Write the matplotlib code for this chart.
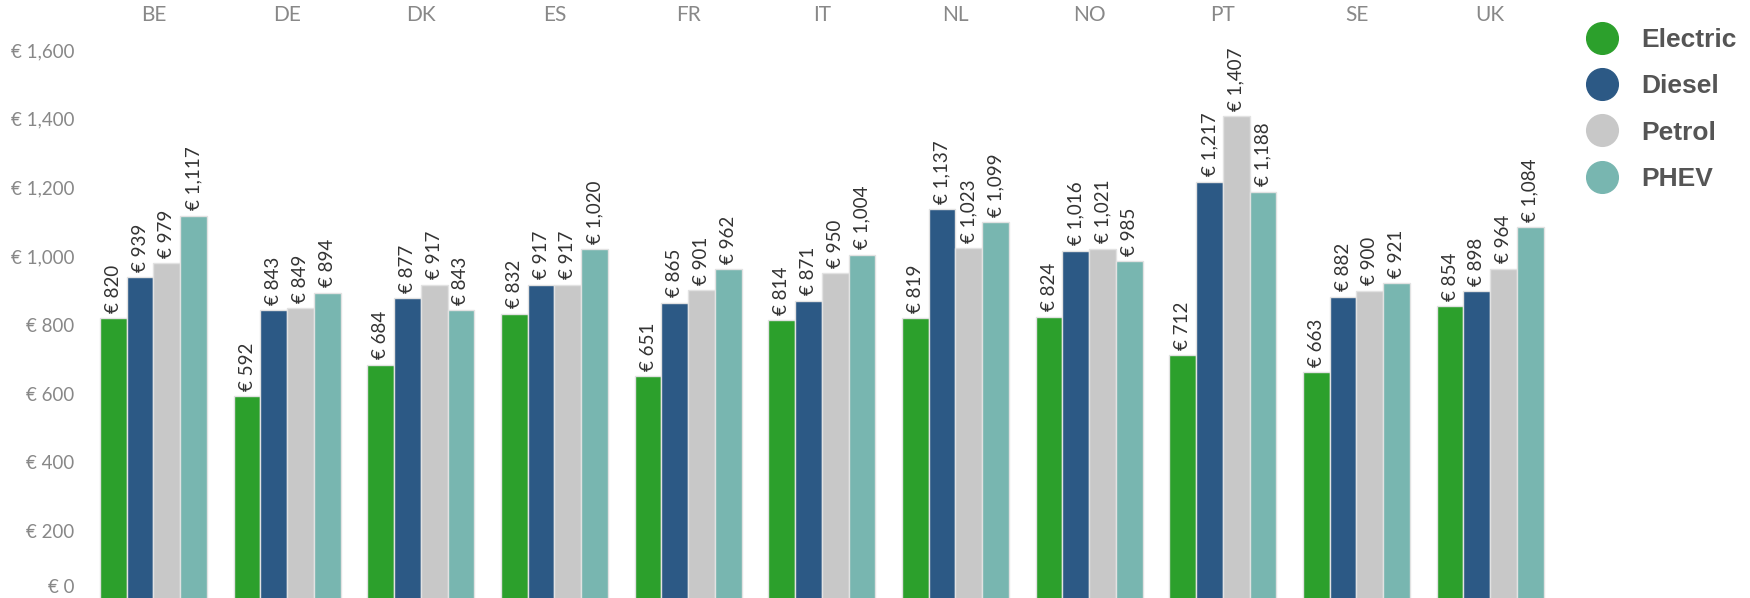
import numpy as np
import matplotlib.pyplot as plt
from matplotlib.lines import Line2D
from matplotlib.transforms import ScaledTranslation

countries = ["BE", "DE", "DK", "ES", "FR", "IT", "NL", "NO", "PT", "SE", "UK"]
fuel_types = ["Electric", "Diesel", "Petrol", "PHEV"]
electric = [820, 592, 684, 832, 651, 814, 819, 824, 712, 663, 854]
diesel = [939, 843, 877, 917, 865, 871, 1137, 1016, 1217, 882, 898]
petrol = [979, 849, 917, 917, 901, 950, 1023, 1021, 1407, 900, 964]
phev = [1117, 894, 843, 1020, 962, 1004, 1099, 985, 1188, 921, 1084]
y_ticks = [0, 200, 400, 600, 800, 1000, 1200, 1400, 1600]

colors = ["#2ca02c", "#2c5985", "#c8c8c8", "#78b6b0"]
series = [electric, diesel, petrol, phev]

W, H = 1750, 598
dpi = 100
fig = plt.figure(figsize=(W / dpi, H / dpi), dpi=dpi)
plt.rcParams['font.family'] = ['Lato', 'DejaVu Sans']

# axes box in pixels: left 86.6, right 1557, top 30, bottom 600
ax = fig.add_axes([86.6 / W, (H - 600) / H, (1557 - 86.6) / W, (600 - 30) / H])

x = np.arange(len(countries))
bw = 0.2
for i, (vals, col) in enumerate(zip(series, colors)):
    pos = x + (i - 1.5) * bw
    ax.bar(pos, vals, width=bw, color=col, edgecolor="#e2e2e2", linewidth=1.0,
           label=fuel_types[i])
    for px, v in zip(pos, vals):
        ax.annotate(f"€ {v:,}", (px, v), xytext=(0, 4), textcoords="offset points",
                    rotation=90, ha="center", va="bottom", fontsize=13.5,
                    color="#333333")

ax.set_xlim(-0.5, len(countries) - 0.5)
ax.set_ylim(0, 1658)
ax.set_xticks([])
ax.set_yticks(y_ticks)
ax.set_yticklabels([f"€ {t:,}" for t in y_ticks], fontsize=13.5, color="#888888")
ax.tick_params(axis="y", length=0, pad=9)
for s in ax.spines.values():
    s.set_visible(False)

# bottom label shifted up so it stays inside the picture
lab0 = ax.get_yticklabels()[0]
lab0.set_transform(lab0.get_transform() + ScaledTranslation(0, 14 / dpi, fig.dpi_scale_trans))

top_shift = ax.get_xaxis_transform() + ScaledTranslation(0, 15 / dpi, fig.dpi_scale_trans)
for xi, c in zip(x, countries):
    ax.text(xi, 1.0, c, transform=top_shift, ha="center", va="center",
            fontsize=15, color="#888888")

handles = [Line2D([], [], marker="o", linestyle="none", markersize=22.8,
                  markerfacecolor=c, markeredgecolor=c) for c in colors]
leg = fig.legend(handles, fuel_types, loc="upper left", bbox_to_anchor=(1562 / W, 1 - 4 / H),
                 frameon=False, handlelength=1.2, handletextpad=0.9, labelspacing=0.85,
                 prop={"family": ["Liberation Sans", "DejaVu Sans"], "weight": "bold", "size": 19})
for t in leg.get_texts():
    t.set_color("#555555")

fig.savefig("out.png", dpi=dpi)
